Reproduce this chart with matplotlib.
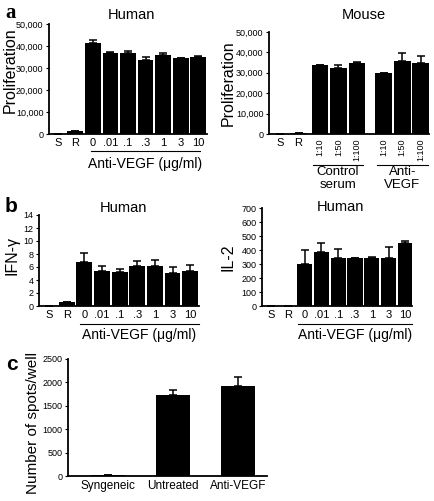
import numpy as np
import matplotlib
matplotlib.use('Agg')
import matplotlib.pyplot as plt

plt.rcParams['font.family'] = ['Liberation Sans', 'DejaVu Sans']

# panel a, human
hum_labels = ['S', 'R', '0', '.01', '.1', '.3', '1', '3', '10']
hum_prolif = [0, 1300, 41200, 36800, 36800, 33800, 35700, 34400, 35100]
hum_prolif_err = [0, 0, 1500, 600, 700, 1100, 1000, 350, 350]

# panel a, mouse
mou_labels = ['S', 'R', '1:10', '1:50', '1:100', '1:10', '1:50', '1:100']
mou_pos = [0, 1, 2.15, 3.15, 4.15, 5.6, 6.6, 7.6]
mou_prolif = [0, 250, 33600, 32200, 34900, 29800, 35700, 34600]
mou_prolif_err = [0, 0, 200, 1700, 500, 300, 4000, 3500]

# panel b
ifn = [0, 0.55, 6.7, 5.4, 5.25, 6.1, 6.1, 5.15, 5.4]
ifn_err = [0, 0, 1.4, 0.7, 0.5, 0.8, 1.0, 0.8, 0.9]
il2 = [0, 0, 297, 388, 340, 340, 340, 345, 448]
il2_err = [0, 0, 103, 65, 65, 3, 8, 80, 15]

# panel c
spot_labels = ['Syngeneic', 'Untreated', 'Anti-VEGF']
spots = [28, 1738, 1916]
spots_err = [0, 100, 190]

fig = plt.figure(figsize=(4.35, 5.01), dpi=100)


def style(ax, ymax, step, fmt=None):
    for s in ['top', 'right']:
        ax.spines[s].set_visible(False)
    for s in ['left', 'bottom']:
        ax.spines[s].set_linewidth(1.3)
    ax.set_ylim(0, ymax)
    ticks = np.arange(0, ymax + step / 2, step)
    ax.set_yticks(ticks)
    if fmt:
        ax.set_yticklabels([fmt(t) for t in ticks])
    ax.tick_params(axis='y', labelsize=6.5, length=2.5, width=0.8, pad=1.5)
    ax.tick_params(axis='x', length=0, labelsize=8, pad=3)


def bars(ax, x, vals, err, width=0.9):
    ax.bar(x, vals, width, color='black', zorder=2)
    ax.errorbar(x, vals, yerr=[np.zeros(len(err)), err], fmt='none',
                ecolor='black', elinewidth=1.1, capsize=3, capthick=1.1, zorder=3)


def under(ax, x0, x1, yline, ytext, text, xc=None, size=10):
    tr = ax.get_xaxis_transform()
    ax.plot([x0, x1], [yline, yline], color='black', lw=0.8, transform=tr, clip_on=False)
    if xc is None:
        xc = (x0 + x1) / 2
    ax.text(xc, ytext, text, transform=tr, ha='center', va='center', fontsize=size,
            linespacing=1.1)


thousands = lambda t: '0' if t == 0 else f'{int(t):,}'

# a left
ax = fig.add_axes([49 / 435, 1 - 134 / 501, 158 / 435, 110 / 501])
x = np.arange(len(hum_labels))
bars(ax, x, hum_prolif, hum_prolif_err)
style(ax, 50000, 10000, thousands)
ax.set_xlim(-0.5, 8.5)
ax.set_xticks(x)
ax.set_xticklabels(hum_labels)
ax.set_ylabel('Proliferation', fontsize=11.5)
ax.yaxis.set_label_coords(-0.2, 0.58)
ax.text(0.52, 1.08, 'Human', transform=ax.transAxes, ha='center', va='center', fontsize=10.5)
under(ax, 1.9, 8.1, -0.155, -0.27, 'Anti-VEGF (\u03bcg/ml)', xc=5.0)

# a right
ax = fig.add_axes([269 / 435, 1 - 134 / 501, 160 / 435, 102 / 501])
bars(ax, mou_pos, mou_prolif, mou_prolif_err)
style(ax, 50000, 10000, thousands)
ax.set_xlim(-0.6, 8.05)
ax.set_xticks(mou_pos)
ax.set_xticklabels(mou_labels)
for i, lab in enumerate(ax.get_xticklabels()):
    if i >= 2:
        lab.set_rotation(90)
        lab.set_fontsize(6.5)
        lab.set_va('top')
ax.set_ylabel('Proliferation', fontsize=11.5)
ax.yaxis.set_label_coords(-0.21, 0.5)
ax.text(0.59, 1.165, 'Mouse', transform=ax.transAxes, ha='center', va='center', fontsize=10.5)
under(ax, 1.78, 4.48, -0.305, -0.44, 'Control\nserum', size=9.5)
under(ax, 5.24, 7.99, -0.305, -0.44, 'Anti-\nVEGF', size=9.5)

# b left
ax = fig.add_axes([39 / 435, 1 - 306 / 501, 160 / 435, 91 / 501])
bars(ax, x, ifn, ifn_err)
style(ax, 14, 2)
ax.set_xlim(-0.57, 8.5)
ax.set_xticks(x)
ax.set_xticklabels(hum_labels)
ax.set_ylabel('IFN-\u03b3', fontsize=11.5)
ax.yaxis.set_label_coords(-0.12, 0.55)
ax.text(0.525, 1.08, 'Human', transform=ax.transAxes, ha='center', va='center', fontsize=10.5)
under(ax, 1.75, 8.5, -0.2, -0.32, 'Anti-VEGF (\u03bcg/ml)', xc=5.1)

# b right
ax = fig.add_axes([262 / 435, 1 - 306 / 501, 150 / 435, 98 / 501])
bars(ax, x, il2, il2_err)
style(ax, 700, 100)
ax.set_xlim(-0.54, 8.4)
ax.set_xticks(x)
ax.set_xticklabels(hum_labels)
ax.set_ylabel('IL-2', fontsize=11.5)
ax.yaxis.set_label_coords(-0.18, 0.5)
ax.text(0.52, 1.01, 'Human', transform=ax.transAxes, ha='center', va='center', fontsize=10.5)
under(ax, 1.6, 8.4, -0.185, -0.3, 'Anti-VEGF (\u03bcg/ml)', xc=5.0)

# c
ax = fig.add_axes([68 / 435, 1 - 476 / 501, 199 / 435, 117 / 501])
xc = np.arange(len(spot_labels))
bars(ax, xc, spots, spots_err, width=0.52)
style(ax, 2500, 500)
ax.set_xlim(-0.62, 2.45)
ax.set_xticks(xc)
ax.set_xticklabels(spot_labels, fontsize=8.5)
ax.set_ylabel('Number of spots/well', fontsize=11)
ax.yaxis.set_label_coords(-0.14, 0.45)

fig.text(5 / 435, 1 - 13 / 501, 'a', fontsize=15, fontweight='bold',
         family=['Liberation Serif'], va='center')
fig.text(5 / 435, 1 - 207 / 501, 'b', fontsize=15, fontweight='bold', va='center')
fig.text(6 / 435, 1 - 364 / 501, 'c', fontsize=15, fontweight='bold', va='center')

fig.savefig('out.png', dpi=100, facecolor='white')
